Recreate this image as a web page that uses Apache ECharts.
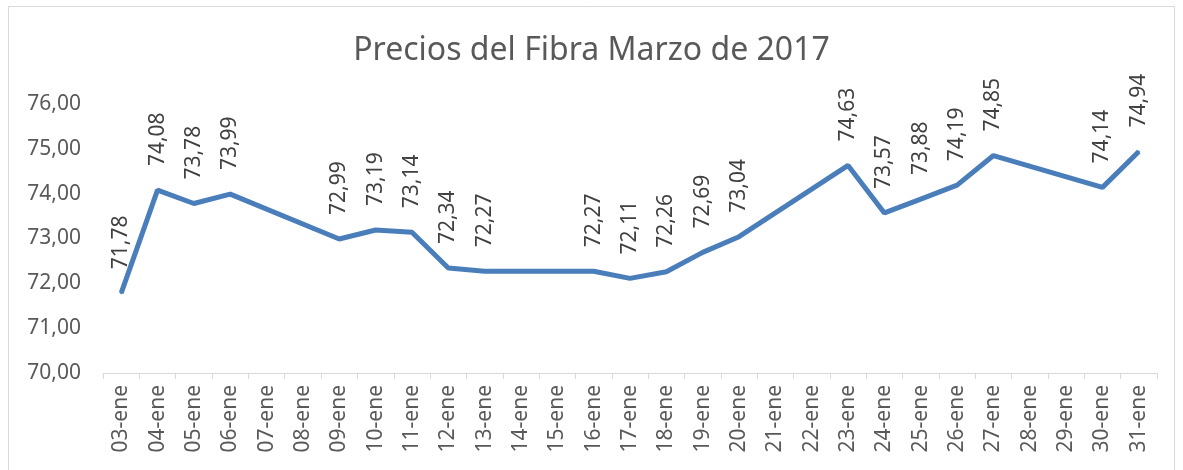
<!DOCTYPE html>
<html>
<head>
<meta charset="utf-8">
<script src="https://cdn.jsdelivr.net/npm/echarts@6/dist/echarts.min.js"></script>
<style>
html, body { margin: 0; padding: 0; background: #fff; }
#main { width: 1183px; height: 470px; }
</style>
</head>
<body>
<div id="main"></div>
<script>
var dias = ['03-ene','04-ene','05-ene','06-ene','07-ene','08-ene','09-ene','10-ene','11-ene','12-ene',
            '13-ene','14-ene','15-ene','16-ene','17-ene','18-ene','19-ene','20-ene','21-ene','22-ene',
            '23-ene','24-ene','25-ene','26-ene','27-ene','28-ene','29-ene','30-ene','31-ene'];

// dias sin cotizacion van en null
var precios = [71.78, 74.08, 73.78, 73.99, null, null, 72.99, 73.19, 73.14, 72.34,
               72.27, null, null, 72.27, 72.11, 72.26, 72.69, 73.04, null, null,
               74.63, 73.57, 73.88, 74.19, 74.85, null, null, 74.14, 74.94];

var ejeY = { min: 70, max: 76, paso: 1 };

function coma(v) {
    return Number(v).toFixed(2).replace('.', ',');
}

var myChart = echarts.init(document.getElementById('main'));

var option = {
    backgroundColor: '#fff',
    animation: false,
    textStyle: { fontFamily: 'Noto Sans' },
    title: {
        text: 'Precios del Fibra Marzo de 2017',
        left: 'center',
        top: 30,
        textStyle: { color: '#595959', fontSize: 32, fontWeight: 'normal', fontFamily: 'Noto Sans' }
    },
    graphic: [{
        type: 'rect',
        shape: { x: 8.5, y: 6.5, width: 1166, height: 470 },
        style: { fill: 'none', stroke: '#d9d9d9', lineWidth: 1 },
        silent: true
    }],
    grid: { left: 103, right: 26, top: 104, bottom: 97 },
    xAxis: {
        type: 'category',
        data: dias,
        boundaryGap: true,
        axisLine: { lineStyle: { color: '#d9d9d9', width: 1 } },
        axisTick: { show: true, interval: 0, length: 6, lineStyle: { color: '#d9d9d9' } },
        axisLabel: {
            interval: 0,
            rotate: 90,
            color: '#595959',
            fontSize: 21,
            fontFamily: 'Noto Sans',
            margin: 12,
            hideOverlap: false
        }
    },
    yAxis: {
        type: 'value',
        min: ejeY.min,
        max: ejeY.max,
        interval: ejeY.paso,
        axisLine: { show: false },
        axisTick: { show: false },
        splitLine: { show: false },
        axisLabel: { color: '#595959', fontSize: 21, margin: 22, formatter: coma }
    },
    series: [{
        type: 'line',
        data: precios,
        connectNulls: true,
        symbol: 'circle',
        symbolSize: 2,
        showSymbol: true,
        showAllSymbol: true,
        itemStyle: { color: '#4a7ebb' },
        lineStyle: { color: '#4a7ebb', width: 5 },
        label: {
            show: true,
            position: 'top',
            distance: 23,
            rotate: 90,
            align: 'left',
            verticalAlign: 'middle',
            color: '#404040',
            fontSize: 21,
            fontFamily: 'Noto Sans',
            formatter: function (p) { return coma(p.value); }
        },
        labelLayout: { hideOverlap: false }
    }]
};

myChart.setOption(option);
</script>
</body>
</html>
